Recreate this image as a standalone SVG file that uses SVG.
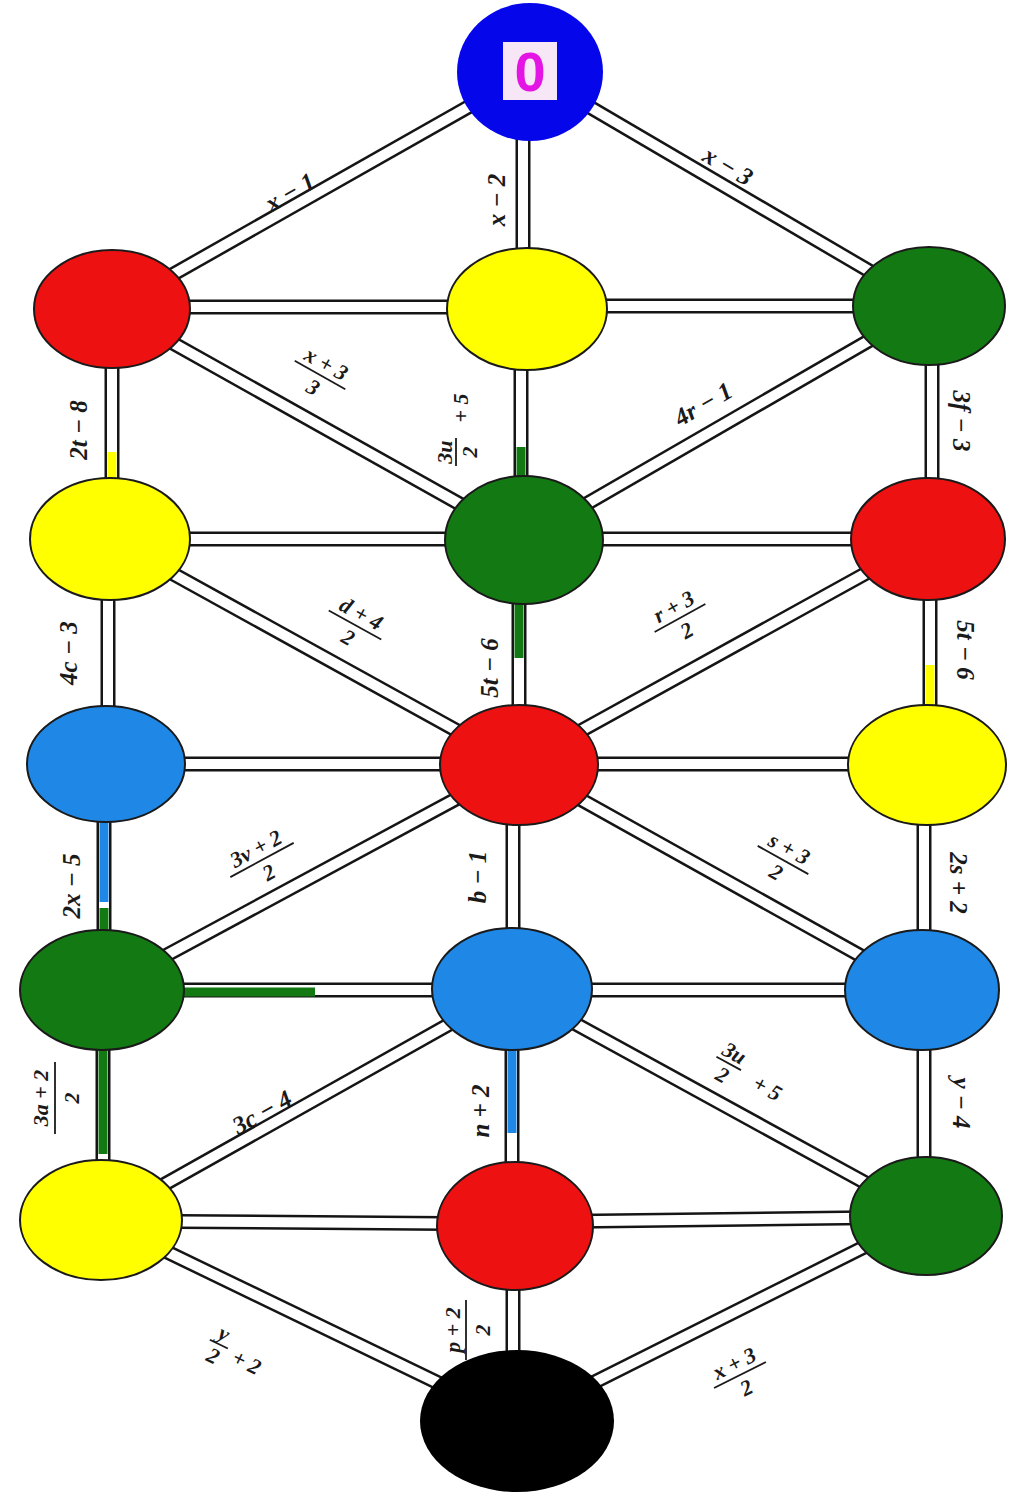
<svg xmlns="http://www.w3.org/2000/svg" width="1012" height="1501" viewBox="0 0 1012 1501">
<style>
.rail{stroke:#151515;stroke-width:15;fill:none}
.gap{stroke:#fff;stroke-width:10;fill:none}
.drip{stroke-width:9;fill:none}
.node{stroke:#1a1a1a;stroke-width:2}
.red{fill:#ee1111}
.yel{fill:#ffff00}
.grn{fill:#137a13}
.blu{fill:#1f88e6}
.lbl{font-family:"Liberation Serif",serif;font-style:italic;font-weight:bold;font-size:25px;fill:#1a1a1a;text-anchor:middle;dominant-baseline:central}
.frac{font-size:22px}
.bar{stroke:#1a1a1a;stroke-width:1.8}
</style>
<rect width="1012" height="1501" fill="#fff"/>
<g id="connectors">
  <g class="rail">
    <g id="edges">
      <line x1="530" y1="72" x2="112" y2="309"/>
      <line x1="523" y1="72" x2="523" y2="309"/>
      <line x1="530" y1="72" x2="929" y2="306"/>
      <line x1="112" y1="307" x2="527" y2="307"/>
      <line x1="527" y1="306" x2="929" y2="306"/>
      <line x1="112" y1="309" x2="112" y2="539"/>
      <line x1="112" y1="309" x2="524" y2="540"/>
      <line x1="521" y1="309" x2="521" y2="540"/>
      <line x1="929" y1="306" x2="524" y2="540"/>
      <line x1="932" y1="306" x2="932" y2="539"/>
      <line x1="110" y1="539" x2="524" y2="539"/>
      <line x1="524" y1="539" x2="928" y2="539"/>
      <line x1="108" y1="539" x2="108" y2="764"/>
      <line x1="110" y1="539" x2="519" y2="765"/>
      <line x1="519" y1="540" x2="519" y2="765"/>
      <line x1="928" y1="539" x2="519" y2="765"/>
      <line x1="930" y1="539" x2="930" y2="765"/>
      <line x1="106" y1="764" x2="519" y2="764"/>
      <line x1="519" y1="764" x2="927" y2="764"/>
      <line x1="104" y1="764" x2="104" y2="990"/>
      <line x1="519" y1="765" x2="102" y2="990"/>
      <line x1="513" y1="765" x2="513" y2="989"/>
      <line x1="519" y1="765" x2="922" y2="990"/>
      <line x1="924" y1="765" x2="924" y2="990"/>
      <line x1="102" y1="990" x2="512" y2="990"/>
      <line x1="512" y1="990" x2="922" y2="990"/>
      <line x1="103" y1="990" x2="103" y2="1220"/>
      <line x1="512" y1="989" x2="101" y2="1220"/>
      <line x1="512" y1="989" x2="512" y2="1226"/>
      <line x1="512" y1="989" x2="926" y2="1216"/>
      <line x1="924" y1="990" x2="924" y2="1216"/>
      <line x1="101" y1="1221" x2="515" y2="1224"/>
      <line x1="515" y1="1222" x2="926" y2="1217"/>
      <line x1="101" y1="1220" x2="517" y2="1421"/>
      <line x1="513" y1="1226" x2="513" y2="1421"/>
      <line x1="926" y1="1216" x2="517" y2="1421"/>
    </g>
  </g>
  <use href="#edges" class="gap"/>
  <g id="drips" class="drip">
    <line x1="112" y1="452" x2="112" y2="485" stroke="#ffff00"/>
    <line x1="521" y1="447" x2="521" y2="485" stroke="#137a13"/>
    <line x1="519" y1="600" x2="519" y2="658" stroke="#137a13"/>
    <line x1="930" y1="665" x2="930" y2="710" stroke="#ffff00"/>
    <line x1="104" y1="818" x2="104" y2="902" stroke="#1f88e6"/>
    <line x1="104" y1="908" x2="104" y2="935" stroke="#137a13"/>
    <line x1="180" y1="992" x2="315" y2="992" stroke="#137a13"/>
    <line x1="103" y1="1045" x2="103" y2="1154" stroke="#137a13"/>
    <line x1="512" y1="1045" x2="512" y2="1133" stroke="#1f88e6"/>
  </g>
</g>
<g id="labels">
  <g transform="translate(290,192) rotate(-29.6)"><text class="lbl">x − 1</text></g>
  <g transform="translate(496,200) rotate(-90)"><text class="lbl">x − 2</text></g>
  <g transform="translate(728,166) rotate(30.3)"><text class="lbl">x − 3</text></g>
  <g transform="translate(78,430) rotate(-90)"><text class="lbl">2t − 8</text></g>
  <g transform="translate(320,375) rotate(29.3)"><text class="lbl frac" y="-13">x + 3</text><line class="bar" x1="-29" y1="0" x2="29" y2="0"/><text class="lbl frac" y="14">3</text></g>
  <g transform="translate(456,428) rotate(-90)"><text class="lbl frac" x="-24" y="-12">3u</text><line class="bar" x1="-38" y1="0" x2="-10" y2="0"/><text class="lbl frac" x="-24" y="13">2</text><text class="lbl frac" x="20" y="4">+ 5</text></g>
  <g transform="translate(703,404) rotate(-30)"><text class="lbl">4r − 1</text></g>
  <g transform="translate(961,421) rotate(90)"><text class="lbl">3f − 3</text></g>
  <g transform="translate(355,625) rotate(28.9)"><text class="lbl frac" y="-13">d + 4</text><line class="bar" x1="-30" y1="0" x2="30" y2="0"/><text class="lbl frac" y="14">2</text></g>
  <g transform="translate(489,668) rotate(-90)"><text class="lbl">5t − 6</text></g>
  <g transform="translate(680,618) rotate(-28.9)"><text class="lbl frac" y="-13">r + 3</text><line class="bar" x1="-29" y1="0" x2="29" y2="0"/><text class="lbl frac" y="14">2</text></g>
  <g transform="translate(965,650) rotate(90)"><text class="lbl">5t − 6</text></g>
  <g transform="translate(68,653) rotate(-90)"><text class="lbl">4c − 3</text></g>
  <g transform="translate(71,886) rotate(-90)"><text class="lbl">2x − 5</text></g>
  <g transform="translate(262,860) rotate(-28.4)"><text class="lbl frac" y="-13">3v + 2</text><line class="bar" x1="-36" y1="0" x2="36" y2="0"/><text class="lbl frac" y="14">2</text></g>
  <g transform="translate(477,877) rotate(-90)"><text class="lbl">b − 1</text></g>
  <g transform="translate(783,860) rotate(29.2)"><text class="lbl frac" y="-13">s + 3</text><line class="bar" x1="-29" y1="0" x2="29" y2="0"/><text class="lbl frac" y="14">2</text></g>
  <g transform="translate(958,883) rotate(90)"><text class="lbl">2s + 2</text></g>
  <g transform="translate(55,1098) rotate(-90)"><text class="lbl frac" y="-15">3a + 2</text><line class="bar" x1="-36" y1="0" x2="36" y2="0"/><text class="lbl frac" y="16">2</text></g>
  <g transform="translate(262,1112) rotate(-29.3)"><text class="lbl">3c − 4</text></g>
  <g transform="translate(480,1111) rotate(-90)"><text class="lbl">n + 2</text></g>
  <g transform="translate(748,1074) rotate(28.7)"><text class="lbl frac" x="-22" y="-12">3u</text><line class="bar" x1="-36" y1="0" x2="-8" y2="0"/><text class="lbl frac" x="-22" y="13">2</text><text class="lbl frac" x="24" y="3">+ 5</text></g>
  <g transform="translate(961,1103) rotate(90)"><text class="lbl">y − 4</text></g>
  <g transform="translate(235,1352) rotate(26)"><text class="lbl frac" x="-18" y="-12">y</text><line class="bar" x1="-28" y1="0" x2="-8" y2="0"/><text class="lbl frac" x="-18" y="13">2</text><text class="lbl frac" x="15" y="4">+ 2</text></g>
  <g transform="translate(466,1330) rotate(-90)"><text class="lbl frac" y="-14">p + 2</text><line class="bar" x1="-30" y1="0" x2="30" y2="0"/><text class="lbl frac" y="16">2</text></g>
  <g transform="translate(740,1375) rotate(-26.6)"><text class="lbl frac" y="-13">x + 3</text><line class="bar" x1="-29" y1="0" x2="29" y2="0"/><text class="lbl frac" y="14">2</text></g>
</g>
<g id="nodes">
  <g id="n-top"><ellipse cx="530" cy="72" rx="73" ry="69" fill="#0606ea"/><rect x="503" y="42" width="54" height="58" fill="#f6e6f6"/><text x="530" y="71" font-family="'Liberation Sans',Arial,sans-serif" font-weight="bold" font-size="56" fill="#e414e4" text-anchor="middle" dominant-baseline="central">0</text></g>
  <g id="n-r1-left"><ellipse class="node red" cx="112" cy="309" rx="78" ry="59"/></g>
  <g id="n-r1-mid"><ellipse class="node yel" cx="527" cy="309" rx="80" ry="61"/></g>
  <g id="n-r1-right"><ellipse class="node grn" cx="929" cy="306" rx="76" ry="59"/></g>
  <g id="n-r2-left"><ellipse class="node yel" cx="110" cy="539" rx="80" ry="61"/></g>
  <g id="n-r2-mid"><ellipse class="node grn" cx="524" cy="540" rx="79" ry="64"/></g>
  <g id="n-r2-right"><ellipse class="node red" cx="928" cy="539" rx="77" ry="61"/></g>
  <g id="n-r3-left"><ellipse class="node blu" cx="106" cy="764" rx="79" ry="58"/></g>
  <g id="n-r3-mid"><ellipse class="node red" cx="519" cy="765" rx="79" ry="60"/></g>
  <g id="n-r3-right"><ellipse class="node yel" cx="927" cy="765" rx="79" ry="60"/></g>
  <g id="n-r4-left"><ellipse class="node grn" cx="102" cy="990" rx="82" ry="60"/></g>
  <g id="n-r4-mid"><ellipse class="node blu" cx="512" cy="989" rx="80" ry="61"/></g>
  <g id="n-r4-right"><ellipse class="node blu" cx="922" cy="990" rx="77" ry="60"/></g>
  <g id="n-r5-left"><ellipse class="node yel" cx="101" cy="1220" rx="81" ry="60"/></g>
  <g id="n-r5-mid"><ellipse class="node red" cx="515" cy="1226" rx="78" ry="64"/></g>
  <g id="n-r5-right"><ellipse class="node grn" cx="926" cy="1216" rx="76" ry="59"/></g>
  <g id="n-bottom"><ellipse cx="517" cy="1421" rx="97" ry="71" fill="#000"/></g>
</g>
</svg>
